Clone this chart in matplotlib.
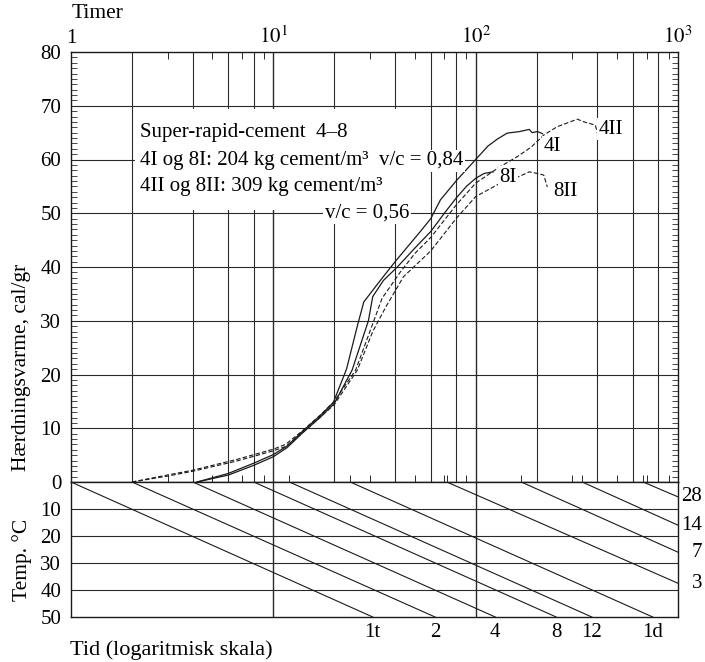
import matplotlib
matplotlib.use('Agg')
import matplotlib.pyplot as plt
from matplotlib.patches import Rectangle
from matplotlib.ticker import NullFormatter

plt.rcParams['font.family'] = ['Liberation Serif', 'DejaVu Serif']
plt.rcParams['mathtext.fontset'] = 'stix'
plt.rcParams['font.size'] = 15

# ---- hardening heat curves (hours, cal/gr) ----
h_4I = [4.2, 6, 8, 10, 11.7, 14, 17, 19.8, 23, 26, 28, 33, 40, 53, 60, 67, 80,
        100, 115, 128, 143, 165, 184, 190, 202, 214]
v_4I = [0, 1.6, 3.5, 5.1, 6.7, 9.5, 12.3, 14.8, 21, 29, 33.5, 37, 41, 46.5, 49,
        52.5, 56, 60, 62.5, 63.8, 64.9, 65.2, 65.6, 65.0, 65.2, 64.8]

h_8I = [4.2, 6, 8, 10, 11.7, 14, 17, 20, 24.5, 29.5, 31, 35, 41, 50, 60, 70, 80,
        90, 100, 110, 122]
v_8I = [0, 1.3, 3.1, 4.7, 6.4, 9.2, 12, 14.6, 20.8, 30, 34.5, 37.5, 40, 43.5,
        46.6, 50, 52.8, 55, 56.5, 57.4, 57.7]

h_4II = [2, 3, 4, 6.6, 10, 11.5, 14, 17, 20, 25.5, 30, 34.5, 42.5, 50, 60, 80,
         100, 130, 160, 188, 218, 253, 318, 343, 390, 400]
v_4II = [0, 1.3, 2.2, 4.2, 6.1, 7, 9.6, 12.4, 15, 20.8, 28, 34.2, 39.1, 42.5,
         45.5, 51.5, 55.6, 58.5, 60.5, 62.3, 64.6, 66.1, 67.5, 67.0, 66.4, 64.9]

h_8II = [2, 3, 4, 6.6, 10, 11.5, 14, 17, 20, 26, 31, 36, 44, 60, 80, 100, 128,
         161, 184, 202, 217, 226]
v_8II = [0, 1.1, 2.0, 3.9, 5.8, 6.6, 9.2, 12, 14.4, 20.8, 28, 32.6, 38.2, 43,
         49, 53.1, 55.3, 56.7, 57.7, 57.4, 57.1, 54.9]

# ---- temperature nomogram lines: start (hours at 0 C) -> end (hours, C) ----
diag_start_h = [1, 2, 4, 8, 12, 24, 72, 168, 336, 672]
diag_end_h = [31, 63, 125, 250, 375, 750, 1000, 1000, 1000, 1000]
diag_end_t = [50, 50, 50, 50, 50, 50, 37.5, 26, 16, 5.5]
bottom_labels = ['1t', '2', '4', '8', '12', '1d']
right_labels = ['3', '7', '14', '28']

grid_hours = [2, 4, 6, 8, 10, 20, 40, 60, 80, 100, 200, 400, 600, 800]
minor_hours = [3, 5, 7, 9, 30, 50, 70, 90, 300, 500, 700, 900]
start_marks = [12, 24, 72, 168, 336, 672]

W, H = 705, 662
fig = plt.figure(figsize=(W / 100, H / 100), dpi=100)
ax = fig.add_axes([71 / W, 180 / H, 607 / W, 430 / H])
axt = fig.add_axes([71 / W, 45 / H, 607 / W, 135 / H])

lc = '#2a2a2a'

# --- upper panel ---
ax.set_xscale('log')
ax.set_xlim(1, 1000)
ax.set_ylim(0, 80)
for h in grid_hours:
    ax.axvline(h, color=lc, lw=0.8 if h not in (10, 100) else 1.0, zorder=1)
for y in range(10, 80, 10):
    ax.axhline(y, color=lc, lw=0.8, zorder=1)

# blank area behind the legend text
ax.add_patch(Rectangle((2.06, 50.6), 50 - 2.06, 18.8, facecolor='white',
                       edgecolor='none', zorder=1.5))

ax.set_xticks([1, 10, 100, 1000])
ax.set_xticklabels(['1', r'$10^1$', r'$10^2$', r'$10^3$'])
ax.set_xticks(minor_hours, minor=True)
ax.xaxis.set_minor_formatter(NullFormatter())
ax.tick_params(axis='x', which='major', top=True, bottom=False, labeltop=True,
               labelbottom=False, length=0, pad=3, labelsize=15)
ax.tick_params(axis='x', which='minor', top=True, bottom=True, direction='in',
               length=5, width=0.7, color=lc)
ax.set_yticks(range(0, 81, 10))
ax.set_yticks(range(0, 81), minor=True)
ax.tick_params(axis='y', which='major', length=0, pad=7, labelsize=15)
ax.tick_params(axis='y', which='minor', left=True, right=True, direction='in',
               length=4, width=0.6, color=lc)

ax.plot(h_4I, v_4I, color='#1a1a1a', lw=0.9, zorder=3)
ax.plot(h_8I, v_8I, color='#1a1a1a', lw=0.9, zorder=3)
ax.plot(h_4II, v_4II, color='#1a1a1a', lw=0.8, ls=(0, (4, 2)), zorder=3)
ax.plot(h_8II, v_8II, color='#1a1a1a', lw=0.8, ls=(0, (4, 2)), zorder=3)

box = dict(facecolor='white', edgecolor='none', pad=1)
ax.text(2.2, 65, 'Super-rapid-cement  4\u20138', va='center', ha='left',
        bbox=box, zorder=4)
ax.text(2.2, 59.8, '4I og 8I: 204 kg cement/m\u00b3  v/c = 0,84', va='center',
        ha='left', bbox=box, zorder=4)
ax.text(2.2, 54.9, '4II og 8II: 309 kg cement/m\u00b3', va='center', ha='left',
        bbox=box, zorder=4)
ax.text(47, 50, 'v/c = 0,56', va='center', ha='right', bbox=box, zorder=4)

ax.text(216, 62.4, '4I', va='center', ha='left', bbox=box, zorder=4)
ax.text(405, 65.6, '4II', va='center', ha='left', bbox=box, zorder=4)
ax.text(131, 56.7, '8I', va='center', ha='left', bbox=box, zorder=4)
ax.text(243, 54, '8II', va='center', ha='left', bbox=box, zorder=4)

# --- temperature panel ---
axt.set_xscale('log')
axt.set_xlim(1, 1000)
axt.set_ylim(50, 0)
for h in (10, 100):
    axt.axvline(h, color=lc, lw=1.0, zorder=1)
for y in range(10, 50, 10):
    axt.axhline(y, color=lc, lw=0.8, zorder=1)
for x0, x1, t1 in zip(diag_start_h, diag_end_h, diag_end_t):
    axt.plot([x0, x1], [0, t1], color='#1a1a1a', lw=0.8, zorder=2)

axt.set_xticks(start_marks)
axt.set_xticks([], minor=True)
axt.xaxis.set_major_formatter(NullFormatter())
axt.tick_params(axis='x', which='major', top=True, bottom=False,
                labelbottom=False, direction='out', length=5, width=0.7,
                color=lc)
axt.set_yticks(range(10, 51, 10))
axt.tick_params(axis='y', length=0, pad=7, labelsize=15)

for lab, x1 in zip(bottom_labels, diag_end_h[:6]):
    axt.text(x1, 52.3, lab, ha='center', va='top', fontsize=15)
for lab, t1 in zip(right_labels, diag_end_t[6:]):
    axt.text(1.04, t1, lab, ha='right', va='center', fontsize=15,
             transform=axt.get_yaxis_transform())

for a in (ax, axt):
    for s in a.spines.values():
        s.set_linewidth(1.0)
        s.set_color('#1a1a1a')

fig.text(72 / W, 1 - 14 / H, 'Timer', ha='left', va='center', fontsize=15.5)
fig.text(22 / W, 1 - 367 / H, 'Hærdningsvarme, cal/gr', rotation=90,
         ha='center', va='center', fontsize=15.5)
fig.text(22 / W, 1 - 560 / H, 'Temp. \u00b0C', rotation=90, ha='center',
         va='center', fontsize=15.5)
fig.text(70 / W, 1 - 650 / H, 'Tid (logaritmisk skala)', ha='left',
         va='center', fontsize=16)

fig.savefig('out.png', dpi=100)
